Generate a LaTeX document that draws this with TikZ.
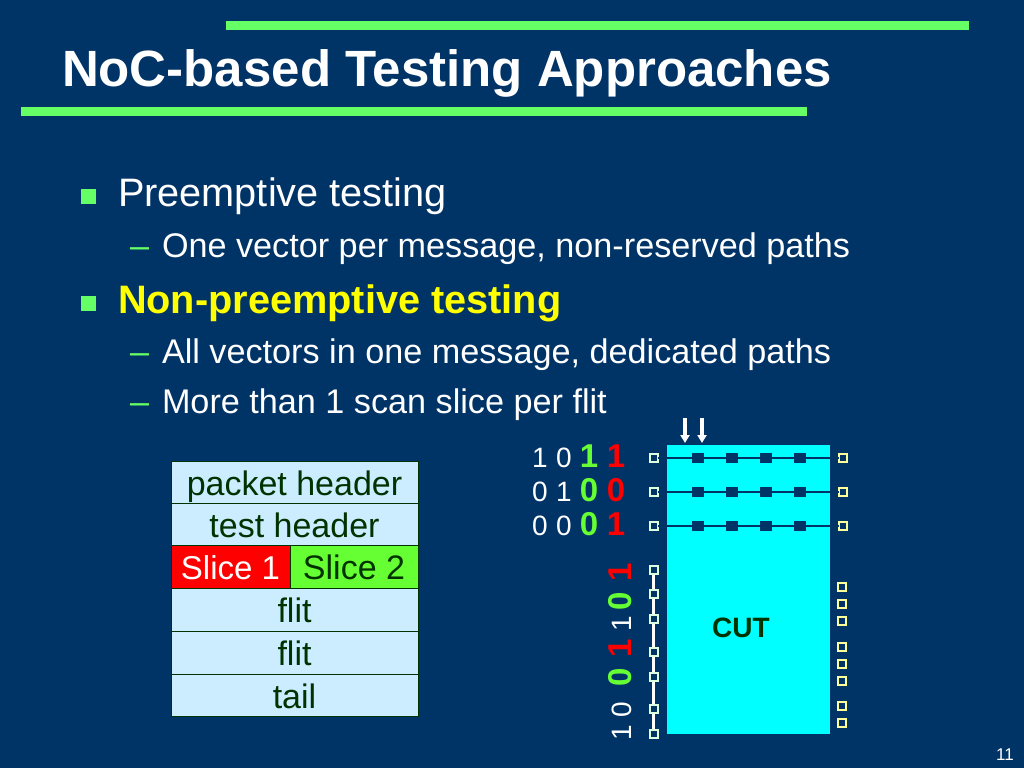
\documentclass[tikz,border=0pt]{standalone}
\usepackage{fontspec}
\setmainfont{Liberation Sans}
\usetikzlibrary{arrows.meta}
\definecolor{slidebg}{HTML}{003366}
\definecolor{rulegreen}{HTML}{66FF66}
\definecolor{celltext}{HTML}{003300}
\definecolor{cellfill}{HTML}{CCECFF}
\definecolor{slicegreen}{HTML}{66FF33}
\definecolor{slicered}{HTML}{FF0000}
\definecolor{hiyellow}{HTML}{FFFF00}
\definecolor{portpale}{HTML}{FFFF99}
\definecolor{portwhite}{HTML}{DDFFDD}
\definecolor{cutfill}{HTML}{00FFFF}

\begin{document}
\begin{tikzpicture}[x = 1pt, y = -1pt, > = {Stealth[length=8pt,width=9pt,inset=0pt]},
                every node/.style = {inner sep = 0pt, outer sep = 0pt}
            ]

            \tikzstyle{greenrule}=[fill = rulegreen, draw = none]
            \tikzstyle{bullet}=[fill = rulegreen, minimum size = 15pt]
            \tikzstyle{lvlone}=[anchor = base west, text = white, font = \fontsize{39.7}{40}\selectfont]
            \tikzstyle{lvltwo}=[anchor = base west, text = white, font = \fontsize{34.2}{34}\selectfont]
            \tikzstyle{cell}=[draw = celltext, line width = 1pt, fill = cellfill, text = celltext,
            minimum height = 42.5pt, minimum width = 247pt, text height = 25pt, text depth = 0pt,
            font = \fontsize{34}{34}\selectfont]
            \tikzstyle{slice}=[cell, minimum width = 119pt]
            \tikzstyle{scanff}=[fill = slidebg, minimum width = 12pt, minimum height = 10pt]
            \tikzstyle{portl}=[draw = portwhite, line width = 1.8pt, fill = slidebg, minimum size = 8.5pt]
            \tikzstyle{portr}=[portl, draw = portpale]
            \tikzstyle{bit}=[text = white, font = \fontsize{28}{28}\selectfont]
            \tikzstyle{bitbig}=[font = \bfseries\fontsize{33}{33}\selectfont]

            % background
            \fill[slidebg] (0,0) rectangle (1024,768);
            \useasboundingbox (0,0) rectangle (1024,768);

            % title
            \fill[greenrule] (226,21) rectangle (969,30);
            \fill[greenrule] (21,107) rectangle (807,116);
            \node (title) [anchor = base west, text = white, font = \bfseries\fontsize{51}{51}\selectfont]
            at (62,86) {NoC-based Testing Approaches};

            % bullets
            \node (b1) [bullet] at (88,196) {};
            \node (t1) [lvlone] at (118,206) {Preemptive testing};
            \node (d1) [lvltwo, text = rulegreen] at (130,257) {--};
            \node (t2) [lvltwo] at (162,257) {One vector per message, non-reserved paths};
            \node (b2) [bullet] at (88,303) {};
            \node (t3) [lvlone, text = hiyellow, font = \bfseries\fontsize{39.7}{40}\selectfont] at (118,313) {Non-preemptive testing};
            \node (d2) [lvltwo, text = rulegreen] at (130,363) {--};
            \node (t4) [lvltwo] at (162,363) {All vectors in one message, dedicated paths};
            \node (d3) [lvltwo, text = rulegreen] at (130,413) {--};
            \node (t5) [lvltwo] at (162,413) {More than 1 scan slice per flit};

            % packet
            \node (pkt) [cell] at (294.5,482.5) {packet header};
            \node (test) [cell] at (294.5,524.5) {test header};
            \node (s1) [slice, fill = slicered, text = white, font = \fontsize{33}{33}\selectfont] at (230.5,567) {Slice 1};
            \node (s2) [slice, fill = slicegreen, minimum width = 128pt] at (354,567) {Slice 2};
            \node (f1) [cell] at (294.5,610) {flit};
            \node (f2) [cell] at (294.5,653) {flit};
            \node (tail) [cell] at (294.5,695.5) {tail};

            % core
            \node (cut) [fill = cutfill, minimum width = 163pt, minimum height = 289pt] at (748.5,589.5) {};
            \node (cutlabel) [text = celltext, font = \bfseries\fontsize{28}{28}\selectfont] at (741,628) {CUT};

            \coordinate (a1) at (685,418); \coordinate (a1e) at (685,443);
            \coordinate (a2) at (702,418); \coordinate (a2e) at (702,443);
            \draw[->, white, line width = 4pt] (a1) -- (a1e);
            \draw[->, white, line width = 4pt] (a2) -- (a2e);

            % scan chains
            \foreach \y/\n in {458/a, 492/b, 526/c} {
                \node (l\n) [portl] at (654,\y) {};
                \node (r\n) [portr] at (843,\y) {};
                \draw[slidebg, line width = 1.2pt] (l\n) -- (r\n);
                \foreach \x in {698, 732, 766, 800}
                    \node (ff\n\x) [scanff] at (\x,\y) {};
            }

            % bits, rows
            \foreach \x/\y/\v in {540/458/1, 564/458/0, 540/492/0, 564/492/1, 540/526/0, 564/526/0}
                \node [bit] at (\x,\y) {\v};
            \foreach \y/\v in {456/1, 490/0, 524/0}
                \node [bitbig, text = slicegreen] at (589,\y) {\v};
            \foreach \y/\v in {456/1, 490/0, 524/1}
                \node [bitbig, text = slicered] at (616,\y) {\v};

            % bits, column
            \foreach \y/\v in {733/1, 710/0, 624/1}
                \node [bit, rotate = 90] at (622,\y) {\v};
            \foreach \y/\v in {677/0, 601/0}
                \node [bitbig, text = slicegreen, rotate = 90] at (620,\y) {\v};
            \foreach \y/\v in {648/1, 572/1}
                \node [bitbig, text = slicered, rotate = 90] at (620,\y) {\v};

            % left ports
            \coordinate (ctop) at (653,570); \coordinate (cbot) at (653,734);
            \draw[white, line width = 3pt] (ctop) -- (cbot);
            \foreach \y in {570, 594, 619, 652, 677, 709, 734}
                \node (pl\y) [portl] at (654,\y) {};

            % right ports
            \foreach \y in {587, 604, 621, 647, 664, 681, 706, 723}
                \node (pr\y) [portr] at (842,\y) {};

            % page number
            \node (page) [text = white, font = \fontsize{17}{17}\selectfont] at (1005,755) {11};
\end{tikzpicture}
\end{document}
